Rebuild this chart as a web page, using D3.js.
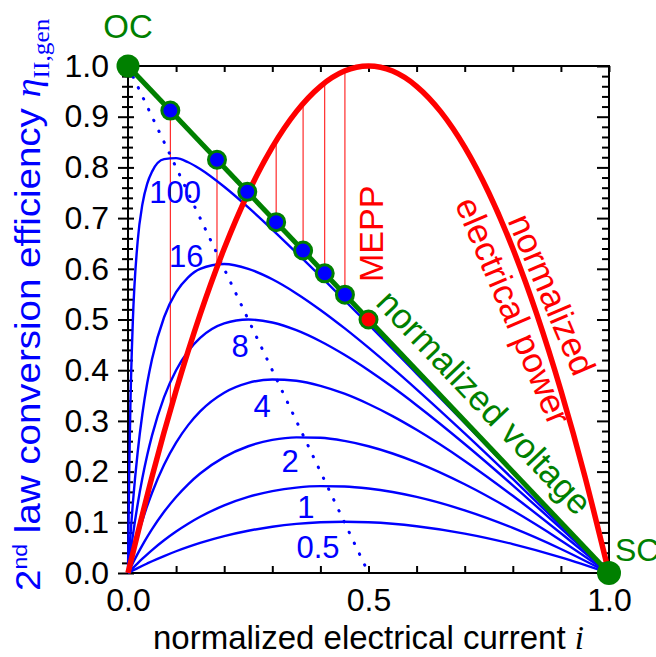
<!DOCTYPE html>
<html><head><meta charset="utf-8">
<script src="https://cdn.jsdelivr.net/npm/d3@7"></script>
<style>body{margin:0;background:#fff}svg{display:block}text{font-family:"Liberation Sans",Arial,sans-serif}</style>
</head><body>
<svg id="chart" width="656" height="657"></svg>
<script>
// ---------- data ----------
const currentGrid = [0, 0.0025, 0.005, 0.01, 0.02, 0.03, 0.04, 0.05, 0.075, 0.1, 0.125, 0.15, 0.2, 0.25, 0.3, 0.35, 0.4, 0.45, 0.5, 0.55, 0.6, 0.7, 0.8, 0.9, 1.0];
const effZT100 = [0, 0.1995, 0.3317, 0.4950, 0.6533, 0.7275, 0.7680, 0.7917, 0.8162, 0.8182, 0.8102, 0.7969, 0.7619, 0.7212, 0.6774, 0.6319, 0.5854, 0.5380, 0.4902, 0.4420, 0.3934, 0.2958, 0.1975, 0.0989, 0];
const effZT16  = [0, 0.0384, 0.0737, 0.1366, 0.2376, 0.3146, 0.3746, 0.4222, 0.5045, 0.5538, 0.5833, 0.6000, 0.6095, 0.6000, 0.5793, 0.5515, 0.5189, 0.4829, 0.4444, 0.4041, 0.3623, 0.2754, 0.1855, 0.0935, 0];
const effZT8   = [0, 0.0196, 0.0383, 0.0733, 0.1352, 0.1877, 0.2327, 0.2714, 0.3469, 0.4000, 0.4375, 0.4636, 0.4923, 0.5000, 0.4941, 0.4789, 0.4571, 0.4304, 0.4000, 0.3667, 0.3310, 0.2545, 0.1730, 0.0878, 0];
const effZT4   = [0, 0.0099, 0.0195, 0.0381, 0.0726, 0.1039, 0.1324, 0.1583, 0.2135, 0.2571, 0.2917, 0.3188, 0.3556, 0.3750, 0.3818, 0.3792, 0.3692, 0.3536, 0.3333, 0.3094, 0.2824, 0.2211, 0.1524, 0.0783, 0];
const effZT2   = [0, 0.0050, 0.0099, 0.0194, 0.0377, 0.0549, 0.0711, 0.0864, 0.1207, 0.1500, 0.1750, 0.1962, 0.2286, 0.2500, 0.2625, 0.2676, 0.2667, 0.2605, 0.2500, 0.2357, 0.2182, 0.1750, 0.1231, 0.0643, 0];
const effZT1   = [0, 0.0025, 0.0050, 0.0098, 0.0192, 0.0283, 0.0369, 0.0452, 0.0645, 0.0818, 0.0972, 0.1109, 0.1333, 0.1500, 0.1615, 0.1685, 0.1714, 0.1707, 0.1667, 0.1597, 0.1500, 0.1235, 0.0889, 0.0474, 0];
const effZT05  = [0, 0.0012, 0.0025, 0.0049, 0.0097, 0.0143, 0.0188, 0.0232, 0.0334, 0.0429, 0.0515, 0.0593, 0.0727, 0.0833, 0.0913, 0.0968, 0.1000, 0.1010, 0.1000, 0.0971, 0.0923, 0.0778, 0.0571, 0.0310, 0];
const curveLabels = ["100", "16", "8", "4", "2", "1", "0.5"];

const powerCurrent = [0, 0.05, 0.1, 0.15, 0.2, 0.25, 0.3, 0.35, 0.4, 0.45, 0.5, 0.55, 0.6, 0.65, 0.7, 0.75, 0.8, 0.85, 0.9, 0.95, 1.0];
const powerValues  = [0, 0.19, 0.36, 0.51, 0.64, 0.75, 0.84, 0.91, 0.96, 0.99, 1.0, 0.99, 0.96, 0.91, 0.84, 0.75, 0.64, 0.51, 0.36, 0.19, 0];

const voltageCurrent = [0, 1];
const voltageValues  = [1, 0];

const optCurrent = [0.088, 0.185, 0.248, 0.308, 0.364, 0.409, 0.451];
const optVoltage = [0.912, 0.815, 0.752, 0.692, 0.636, 0.591, 0.549];
const optPower   = [0.321, 0.603, 0.746, 0.853, 0.926, 0.967, 0.990];

const maxLocusCurrent = [0, 0.5];
const maxLocusEff     = [1, 0];

const meppPoint = [0.5, 0.5];
const ocPoint = [0, 1];
const scPoint = [1, 0];

const yMajorTicks = [0, 0.1, 0.2, 0.3, 0.4, 0.5, 0.6, 0.7, 0.8, 0.9, 1.0];
const xMajorTicks = [0, 0.1, 0.2, 0.3, 0.4, 0.5, 0.6, 0.7, 0.8, 0.9, 1.0];
const xLabelTicks = [0, 0.5, 1.0];

// ---------- layout ----------
const BLUE = "#0000ff", GREEN = "#008000", RED = "#ff0000";
const svg = d3.select("#chart");
const x = d3.scaleLinear().domain([0, 1]).range([128, 609]);
const y = d3.scaleLinear().domain([0, 1]).range([573, 66]);
const yMinor = d3.range(0, 51).map(k => k / 50).filter(v => Math.round(v * 50) % 5 !== 0);

// axes
const gL = svg.append("g").attr("transform", `translate(${x(0)},0)`)
  .call(d3.axisLeft(y).tickValues(yMajorTicks).tickSize(10).tickPadding(9).tickFormat(d3.format(".1f")));
gL.selectAll(".tick line").attr("x1", 6).attr("x2", -10);
const gLm = svg.append("g").attr("transform", `translate(${x(0)},0)`)
  .call(d3.axisLeft(y).tickValues(yMinor).tickSize(6).tickFormat(""));
gLm.selectAll(".tick line").attr("x1", 5).attr("x2", -6);
svg.append("g").attr("transform", `translate(${x(1)},0)`)
  .call(d3.axisRight(y).tickValues(yMajorTicks).tickSize(-12).tickFormat(""));
svg.append("g").attr("transform", `translate(${x(1)},0)`)
  .call(d3.axisRight(y).tickValues(yMinor).tickSize(-7).tickFormat(""));
svg.append("g").attr("transform", `translate(0,${y(0)})`)
  .call(d3.axisBottom(x).tickValues(xMajorTicks).tickSize(-7).tickPadding(15)
    .tickFormat(d => xLabelTicks.some(v => Math.abs(v - d) < 1e-9) ? d3.format(".1f")(d) : ""));
svg.append("g").attr("transform", `translate(0,${y(1)})`)
  .call(d3.axisTop(x).tickValues(xMajorTicks).tickSize(-6).tickFormat(""));
svg.selectAll(".domain").remove();
svg.selectAll(".tick line").attr("stroke", "#000").attr("stroke-width", 2);
svg.selectAll(".tick text").attr("font-size", 32).attr("fill", "#000")
  .attr("font-family", '"Liberation Sans",Arial,sans-serif');
svg.append("rect").attr("x", x(0)).attr("y", y(1)).attr("width", x(1) - x(0)).attr("height", y(0) - y(1))
  .attr("fill", "none").attr("stroke", "#000").attr("stroke-width", 2);

// red verticals
optCurrent.forEach((c, k) => {
  svg.append("line").attr("x1", x(c)).attr("x2", x(c)).attr("y1", y(optVoltage[k])).attr("y2", y(optPower[k]))
    .attr("stroke", RED).attr("stroke-width", 1);
});

// dotted locus of maxima
const line2 = d3.line().x((d) => x(d[0])).y(d => y(d[1]));
svg.append("path").attr("d", line2(d3.zip(maxLocusCurrent, maxLocusEff)))
  .attr("fill", "none").attr("stroke", BLUE).attr("stroke-width", 3)
  .attr("stroke-dasharray", "0.5 11.5").attr("stroke-linecap", "round");

// efficiency curves
const effSeries = [effZT100, effZT16, effZT8, effZT4, effZT2, effZT1, effZT05];
const effLine = d3.line().x(d => x(d[0])).y(d => y(d[1])).curve(d3.curveMonotoneX);
effSeries.forEach(s => {
  svg.append("path").attr("d", effLine(d3.zip(currentGrid, s)))
    .attr("fill", "none").attr("stroke", BLUE).attr("stroke-width", 2.4);
});

// curve labels (anchor positions in data coordinates)
const labelAnchor = [[0.098, 0.730], [0.121, 0.604], [0.233, 0.426], [0.279, 0.308], [0.337, 0.199], [0.370, 0.108], [0.395, 0.030]];
curveLabels.forEach((t, k) => {
  svg.append("text").attr("x", x(labelAnchor[k][0])).attr("y", y(labelAnchor[k][1]))
    .attr("text-anchor", "middle").attr("font-size", 31).attr("fill", BLUE).text(t);
});

// voltage line
svg.append("path").attr("d", line2(d3.zip(voltageCurrent, voltageValues)))
  .attr("fill", "none").attr("stroke", GREEN).attr("stroke-width", 5);

// power curve
svg.append("path").attr("d", d3.line().x(d => x(d[0])).y(d => y(d[1])).curve(d3.curveNatural)(d3.zip(powerCurrent, powerValues)))
  .attr("fill", "none").attr("stroke", RED).attr("stroke-width", 5.5);

// points
optCurrent.forEach((c, k) => {
  svg.append("circle").attr("cx", x(c)).attr("cy", y(optVoltage[k])).attr("r", 8.5)
    .attr("fill", BLUE).attr("stroke", GREEN).attr("stroke-width", 3);
});
svg.append("circle").attr("cx", x(meppPoint[0])).attr("cy", y(meppPoint[1])).attr("r", 8.5)
  .attr("fill", RED).attr("stroke", GREEN).attr("stroke-width", 3);
svg.append("circle").attr("cx", x(ocPoint[0])).attr("cy", y(ocPoint[1])).attr("r", 11.5).attr("fill", GREEN);
svg.append("circle").attr("cx", x(scPoint[0])).attr("cy", y(scPoint[1])).attr("r", 12).attr("fill", GREEN);

// annotations
svg.append("text").attr("x", x(0)).attr("y", 38).attr("text-anchor", "middle").attr("font-size", 33).attr("fill", GREEN).text("OC");
svg.append("text").attr("x", 615).attr("y", 561).attr("font-size", 32).attr("fill", GREEN).text("SC");
svg.append("text").attr("transform", `translate(${x(0.530)},${y(0.574)}) rotate(-90)`)
  .attr("font-size", 34).attr("fill", RED).text("MEPP");

// normalized voltage label, parallel to the green line
{
  const ang = Math.atan2(y(0) - y(1), x(1) - x(0));
  const px = x(0.49), py = y(0.51);
  const nx = Math.sin(ang), ny = -Math.cos(ang);
  const off = 15;
  svg.append("text").attr("transform", `translate(${px + nx * off},${py + ny * off}) rotate(${ang * 180 / Math.PI})`)
    .attr("font-size", 35).attr("fill", GREEN).text("normalized voltage");
}
// normalized electrical power label
{
  const g = svg.append("g").attr("transform", `translate(${x(0.858)},${y(0.54)}) rotate(67)`);
  g.append("text").attr("x", 0).attr("y", 0).attr("text-anchor", "middle").attr("font-size", 35).attr("fill", RED).text("normalized");
  g.append("text").attr("x", 0).attr("y", 42).attr("text-anchor", "middle").attr("font-size", 35).attr("fill", RED).text("electrical power");
}

// axis titles
const xt = svg.append("text").attr("x", (x(0) + x(1)) / 2).attr("y", 649).attr("text-anchor", "middle").attr("font-size", 33).attr("fill", "#000");
xt.append("tspan").text("normalized electrical current ");
xt.append("tspan").attr("font-family", '"Liberation Serif","Times New Roman",serif').attr("font-style", "italic").text("i");

const yt = svg.append("text").attr("transform", "translate(40,591) rotate(-90) scale(1.1,1)").attr("font-size", 35).attr("fill", BLUE);
yt.append("tspan").text("2");
yt.append("tspan").attr("font-size", 21).attr("dy", -13).text("nd");
yt.append("tspan").attr("dy", 13).text(" law conversion efficiency ");
yt.append("tspan").attr("font-family", '"Liberation Serif","Times New Roman",serif').attr("font-style", "italic").text("η");
yt.append("tspan").attr("font-family", '"Liberation Serif","Times New Roman",serif').attr("font-size", 23).attr("dy", 9).text("II,gen");
</script>
</body></html>
